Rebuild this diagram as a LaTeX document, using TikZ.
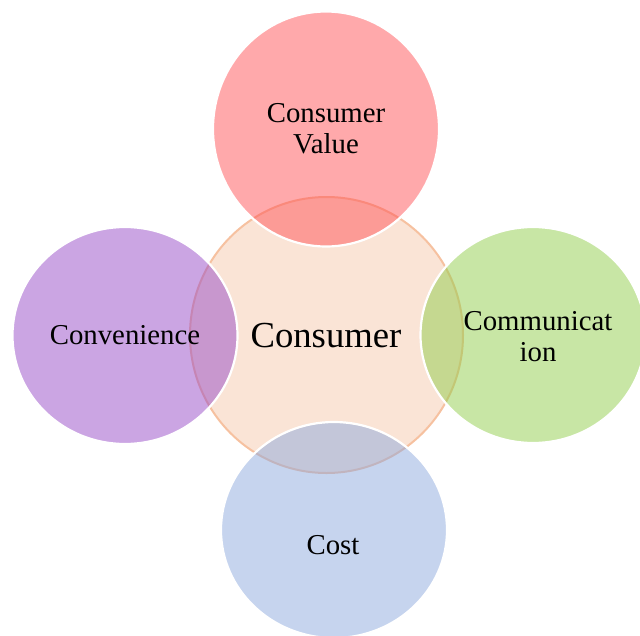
\documentclass[tikz,border=0pt]{standalone}
\usepackage{fontspec}
\setmainfont{Liberation Serif}
\usetikzlibrary{shapes.geometric}
\definecolor{corefill}{RGB}{250,228,214}
\definecolor{coreline}{RGB}{246,193,160}
\definecolor{valuefill}{RGB}{255,83,87}
\definecolor{convfill}{RGB}{151,75,199}
\definecolor{commfill}{RGB}{145,205,75}
\definecolor{costfill}{RGB}{141,169,221}
\tikzset{
  core/.style={ellipse, inner sep=0pt, fill=corefill, draw=coreline, line width=2pt},
  petal/.style={ellipse, inner sep=0pt, fill=#1, fill opacity=0.5, draw=white, draw opacity=1, line width=2.2pt},
  lbl/.style={font=\fontsize{28.8}{31}\selectfont, align=center, inner sep=0pt, text=black},
  biglbl/.style={font=\fontsize{36.7}{40}\selectfont, inner sep=0pt, text=black}
}
\begin{document}
\begin{tikzpicture}[x=1pt, y=-1pt]
  \useasboundingbox (0,0) rectangle (640,635);
  \clip (0,0) rectangle (640,635);
  % centre circle
  \node[core, minimum width=273pt, minimum height=276pt] (core) at (326.5,335) {};
  % surrounding circles
  \node[petal=valuefill, minimum width=226pt, minimum height=235pt] (value) at (326,129) {};
  \node[petal=convfill, minimum width=225pt, minimum height=217pt] (conv) at (125,335.5) {};
  \node[petal=commfill, minimum width=225pt, minimum height=216pt] (comm) at (533,335) {};
  \node[petal=costfill, minimum width=226pt, minimum height=216pt] (cost) at (334,530) {};
  % labels
  \node[biglbl] (coreText) at (326,336) {Consumer};
  \node[lbl] (valueText) at (326,129) {Consumer\\Value};
  \node[lbl] (convText) at (125,335) {Convenience};
  \node[lbl] (commText) at (538,337) {Communicat\\ion};
  \node[lbl] (costText) at (333,545) {Cost};
\end{tikzpicture}
\end{document}
